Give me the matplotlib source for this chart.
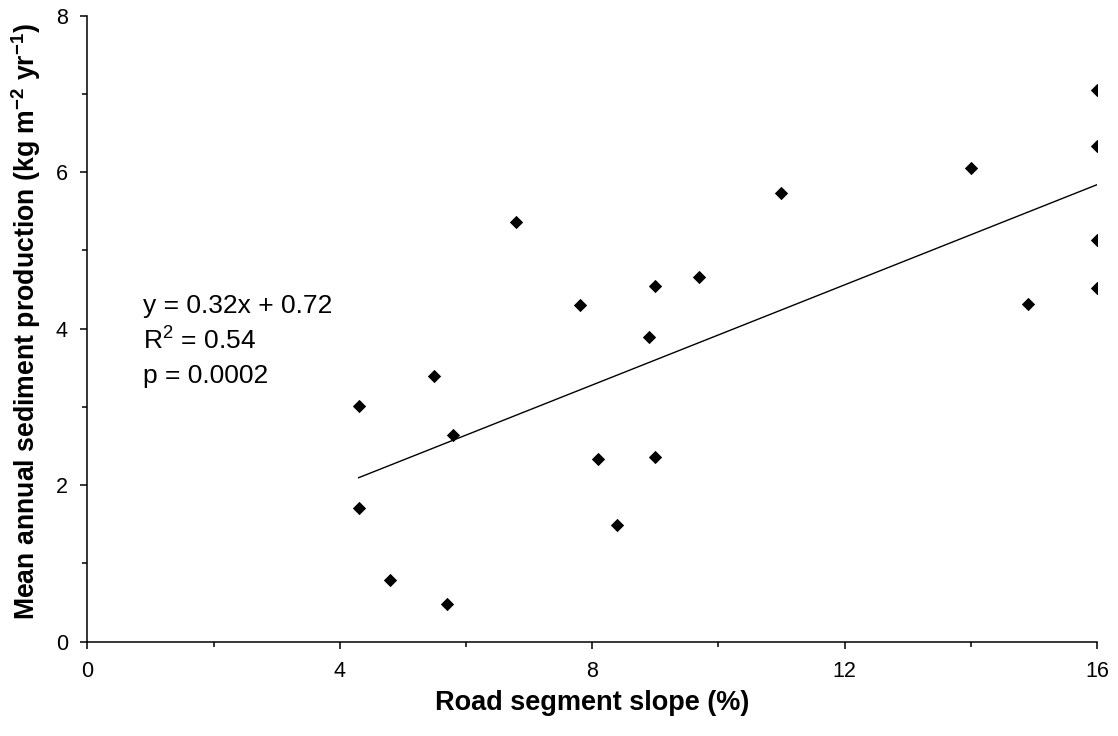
import numpy as np
import matplotlib
matplotlib.use("Agg")
import matplotlib.pyplot as plt

# road segment slope (%) and mean annual sediment production (kg m-2 yr-1)
slope = [4.3, 4.3, 4.8, 5.5, 5.7, 5.8, 6.8, 7.8, 8.1, 8.4, 8.9,
         9.0, 9.0, 9.7, 11.0, 14.0, 14.9, 16.0, 16.0, 16.0, 16.0]
sed = [3.01, 1.71, 0.79, 3.40, 0.48, 2.64, 5.36, 4.30, 2.34, 1.49, 3.90,
       4.54, 2.36, 4.66, 5.73, 6.05, 4.32, 7.05, 6.33, 5.13, 4.52]

# fitted regression
fit_slope = 0.32
fit_int = 0.72
eq_lines = ["y = 0.32x + 0.72", "R$^2$ = 0.54", "p = 0.0002"]

xticks = [0, 4, 8, 12, 16]
yticks = [0, 2, 4, 6, 8]

plt.rcParams['font.family'] = ['Liberation Sans', 'DejaVu Sans']
plt.rcParams['mathtext.fontset'] = 'custom'
plt.rcParams['mathtext.rm'] = 'Liberation Sans'
plt.rcParams['mathtext.bf'] = 'Liberation Sans:bold'

fig = plt.figure(figsize=(11.18, 7.36), dpi=100)
ax = fig.add_axes([0.0781, 0.1281, 0.9031, 0.8506])

ax.scatter(slope, sed, marker='D', s=46, color='black', zorder=3, linewidths=0)

xl = np.array([min(slope), max(slope)])
ax.plot(xl, fit_slope * xl + fit_int, color='black', lw=1.0)

ax.set_xlim(0, 16)
ax.set_ylim(0, 8)
ax.set_xticks(xticks)
ax.set_yticks(yticks)
ax.set_xticks([2, 6, 10, 14], minor=True)
ax.set_yticks([1, 3, 5, 7], minor=True)
ax.tick_params(axis='x', which='major', length=5, width=1.1, pad=8.6, labelsize=15.5)
ax.tick_params(axis='y', which='major', length=5, width=1.1, pad=9, labelsize=15.5)
ax.tick_params(which='minor', length=3.5, width=1.1)

for s in ['top', 'right']:
    ax.spines[s].set_visible(False)
for s in ['left', 'bottom']:
    ax.spines[s].set_linewidth(1.1)

ax.set_xlabel("Road segment slope (%)", fontsize=19.5, fontweight='bold')
ax.xaxis.label.set_verticalalignment('baseline')
ax.xaxis.set_label_coords(0.5, -0.1086)

ax.set_ylabel(r"Mean annual sediment production (kg m$^{\mathbf{-2}}$ yr$^{\mathbf{-1}}$)",
              fontsize=19.2, fontweight='bold')
ax.yaxis.label.set_verticalalignment('center')
ax.yaxis.set_label_coords(-0.0607, 0.512)

for i, t in enumerate(eq_lines):
    ax.text(0.88, 4.20 - 0.45 * i, t, fontsize=19, va='baseline', ha='left')

fig.savefig("out.png", dpi=100)
